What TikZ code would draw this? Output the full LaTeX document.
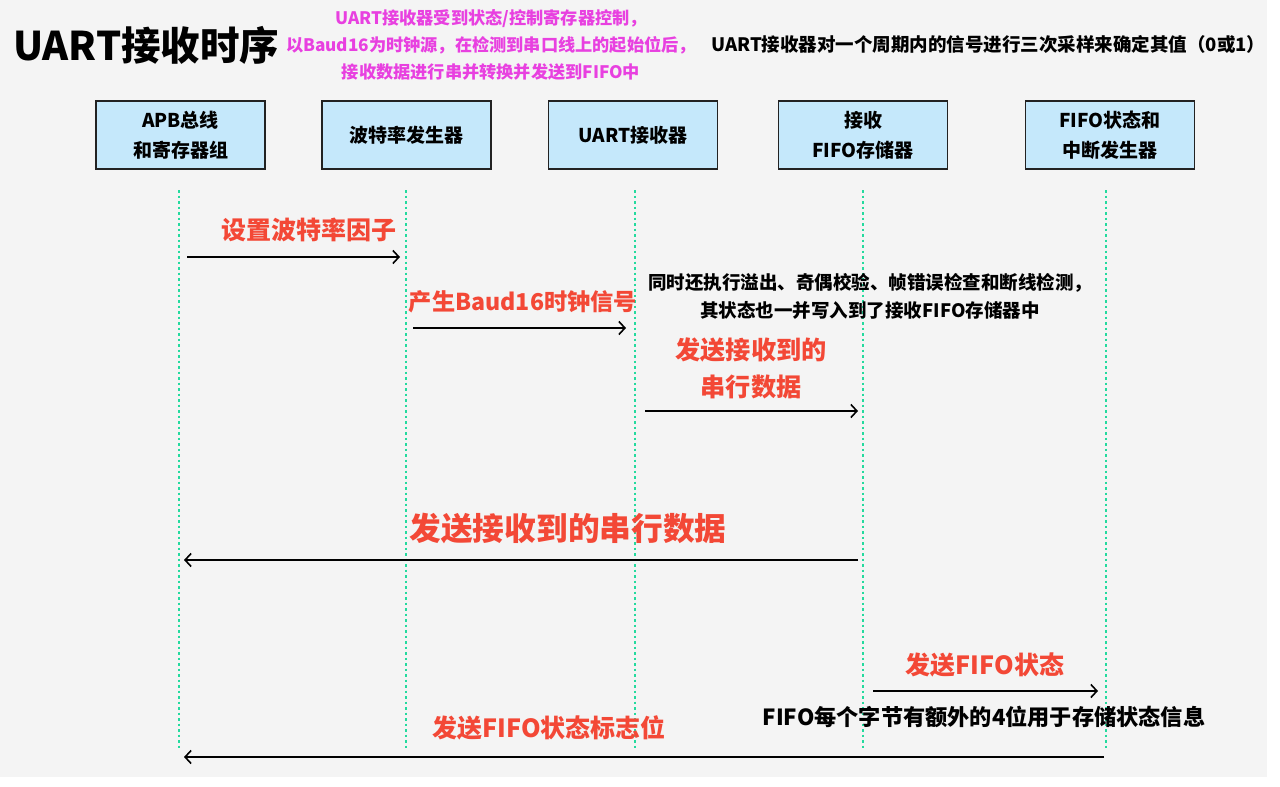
\documentclass[tikz,border=0pt]{standalone}
\usepackage{fontspec}
\setmainfont{Noto Sans CJK SC}
\usetikzlibrary{arrows.meta}
\definecolor{bggray}{RGB}{244,244,244}
\definecolor{boxfill}{RGB}{197,232,251}
\definecolor{boxline}{RGB}{34,34,34}
\definecolor{lifegreen}{RGB}{36,218,158}
\definecolor{lblred}{RGB}{243,72,54}
\definecolor{notepink}{RGB}{232,64,224}
\tikzset{
  actor/.style={draw=boxline, line width=1.6pt, fill=boxfill, minimum width=169pt, minimum height=68pt, inner sep=0pt, align=center, font=\fontsize{19}{30}\selectfont\bfseries},
  lifeline/.style={draw=lifegreen, line width=2.2pt, dash pattern=on 2.5pt off 3pt},
  msg/.style={draw=black, line width=1.6pt, -{Straight Barb[length=6pt,width=13pt,line width=1.6pt]}},
  redlbl/.style={text=lblred, inner sep=0pt, align=center, font=\fontsize{24}{37}\selectfont\bfseries},
  note/.style={text=black, inner sep=0pt, align=center, font=\fontsize{18.5}{28}\selectfont\bfseries},
}
\begin{document}
\begin{tikzpicture}[x=1pt,y=-1pt]
\useasboundingbox (0,0) rectangle (1280,787);
\fill[white] (0,0) rectangle (1280,787);
\fill[bggray] (0,0) rectangle (1267,777);

% title and notes
\node[anchor=west, inner sep=0pt, font=\fontsize{39.5}{44}\selectfont\bfseries] (title) at (13,45) {UART接收时序};
\node[text=notepink, inner sep=0pt, align=center, font=\fontsize{17.2}{27}\selectfont\bfseries] (pink) at (491,45) {UART接收器受到状态/控制寄存器控制，\\以Baud16为时钟源，在检测到串口线上的起始位后，\\接收数据进行串并转换并发送到FIFO中};
\node[note, anchor=west] (topnote) at (711,44) {UART接收器对一个周期内的信号进行三次采样来确定其值（0或1）};

% actors
\node[actor] (apb) at (180.5,135) {APB总线\\和寄存器组};
\node[actor] (baud) at (406.5,135) {波特率发生器};
\node[actor] (rx) at (633,135) {UART接收器};
\node[actor] (fifo) at (863,135) {接收\\FIFO存储器};
\node[actor] (intr) at (1110,135) {FIFO状态和\\中断发生器};

% lifelines
\coordinate (l1t) at (179,190); \coordinate (l1b) at (179,750);
\coordinate (l2t) at (406,190); \coordinate (l2b) at (406,750);
\coordinate (l3t) at (635,190); \coordinate (l3b) at (635,750);
\coordinate (l4t) at (863,190); \coordinate (l4b) at (863,750);
\coordinate (l5t) at (1106,190); \coordinate (l5b) at (1106,750);
\draw[lifeline] (l1t) -- (l1b);
\draw[lifeline] (l2t) -- (l2b);
\draw[lifeline] (l3t) -- (l3b);
\draw[lifeline] (l4t) -- (l4b);
\draw[lifeline] (l5t) -- (l5b);

% messages
\coordinate (m1s) at (187,257); \coordinate (m1e) at (400,257);
\draw[msg] (m1s) -- (m1e);
\node[redlbl, font=\fontsize{25}{30}\selectfont\bfseries] (t1) at (309,230) {设置波特率因子};

\coordinate (m2s) at (413,328); \coordinate (m2e) at (626,328);
\draw[msg] (m2s) -- (m2e);
\node[redlbl, font=\fontsize{23.2}{30}\selectfont\bfseries] (t2) at (523,302) {产生Baud16时钟信号};

\node[note] (ann) at (870,296) {同时还执行溢出、奇偶校验、帧错误检查和断线检测，\\其状态也一并写入到了接收FIFO存储器中};

\coordinate (m3s) at (645,411); \coordinate (m3e) at (858,411);
\draw[msg] (m3s) -- (m3e);
\node[redlbl, font=\fontsize{25.2}{37}\selectfont\bfseries] (t3) at (751,368) {发送接收到的\\串行数据};

\coordinate (m4s) at (858,560); \coordinate (m4e) at (184,560);
\draw[msg] (m4s) -- (m4e);
\node[redlbl, font=\fontsize{31.7}{37}\selectfont\bfseries] (t4) at (568,528) {发送接收到的串行数据};

\coordinate (m5s) at (873,691); \coordinate (m5e) at (1098,691);
\draw[msg] (m5s) -- (m5e);
\node[redlbl, font=\fontsize{25}{30}\selectfont\bfseries] (t5) at (985,665) {发送FIFO状态};
\node[note, font=\fontsize{22.2}{28}\selectfont\bfseries] (fnote) at (984,717) {FIFO每个字节有额外的4位用于存储状态信息};

\coordinate (m6s) at (1104,757); \coordinate (m6e) at (184,757);
\draw[msg] (m6s) -- (m6e);
\node[redlbl, font=\fontsize{25}{30}\selectfont\bfseries] (t6) at (549,728) {发送FIFO状态标志位};
\end{tikzpicture}
\end{document}
